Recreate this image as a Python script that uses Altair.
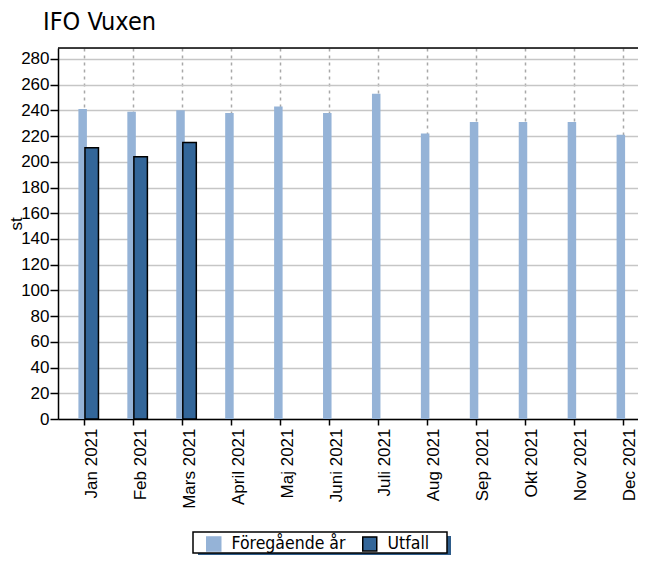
import altair as alt
import pandas as pd

months = ["Jan 2021", "Feb 2021", "Mars 2021", "April 2021", "Maj 2021", "Juni 2021",
          "Juli 2021", "Aug 2021", "Sep 2021", "Okt 2021", "Nov 2021", "Dec 2021"]
foregaende = [241, 239, 240, 238, 243, 238, 253, 222, 231, 231, 231, 221]
utfall = [211, 204, 215]

series = ["Föregående år", "Utfall"]
fill_colors = ["#95b3d7", "#336699"]
stroke_colors = ["#95b3d7", "#000000"]

rows = []
for m, v in zip(months, foregaende):
    rows.append({"month": m, "serie": series[0], "value": v})
for m, v in zip(months, utfall):
    rows.append({"month": m, "serie": series[1], "value": v})
df = pd.DataFrame(rows)

x = alt.X("month:N", sort=months, title=None,
          scale=alt.Scale(paddingInner=0, paddingOuter=0.05, range=[0, 592]),
          axis=alt.Axis(labelAngle=-90, labelAlign="right", labelBaseline="top",
                        labelOffset=-1,
                        labelFont="Liberation Sans", labelFontSize=17, labelColor="#000",
                        labelPadding=3, tickSize=6, tickColor="#000", tickWidth=1.5,
                        domainColor="#000", domainWidth=1.5,
                        grid=True, gridColor="#a8a8a8", gridDash=[3, 4], gridWidth=1.5))
y = alt.Y("value:Q", title="st",
          scale=alt.Scale(domain=[0, 288.5], nice=False),
          axis=alt.Axis(values=list(range(0, 281, 20)), labelFont="Liberation Sans",
                        labelFontSize=17, labelColor="#000", labelPadding=1,
                        tickSize=8, tickColor="#000", tickWidth=1.5,
                        domainColor="#000", domainWidth=1.5,
                        grid=True, gridColor="#c6c6c6", gridWidth=1.5,
                        titleFont="Liberation Sans", titleFontSize=17, titleFontWeight="normal",
                        titleColor="#000", titleAngle=270, titleX=-36.5, titleY=175.5,
                        titleAlign="center", titleBaseline="alphabetic"))
fill = alt.Fill("serie:N", scale=alt.Scale(domain=series, range=fill_colors),
                legend=alt.Legend(title=None, orient="none", legendX=147, legendY=487,
                                  direction="horizontal", symbolType="square", symbolSize=196,
                                  symbolStrokeWidth=1.5, labelFont="DejaVu Sans Condensed",
                                  labelFontSize=17.5, labelColor="#000", labelOffset=9,
                                  columnPadding=13, padding=0))
stroke = alt.Stroke("serie:N", scale=alt.Scale(domain=series, range=stroke_colors), legend=None)

light = alt.Chart(df).transform_filter(alt.datum.serie == series[0]).mark_bar(
    width=8.5, xOffset=-2.25, strokeWidth=0).encode(x=x, y=y, fill=fill, stroke=stroke)
dark = alt.Chart(df).transform_filter(alt.datum.serie == series[1]).mark_bar(
    width=13.5, xOffset=6.8, strokeWidth=1.5).encode(x=x, y=y, fill=fill, stroke=stroke)

box = pd.DataFrame({"k": [0]})
shadow = alt.Chart(box).mark_rect(color="#2e5c8a").encode(
    x=alt.value(140), x2=alt.value(393), y=alt.value(488), y2=alt.value(509))
frame = alt.Chart(box).mark_rect(fill="white", stroke="#000", strokeWidth=1.5).encode(
    x=alt.value(135), x2=alt.value(389), y=alt.value(484), y2=alt.value(505))
topline = alt.Chart(box).mark_rule(color="#000", strokeWidth=1.5).encode(
    x=alt.value(0), x2=alt.value(592), y=alt.value(0))

chart = alt.layer(light, dark, shadow, frame, topline).properties(
    width=580, height=371,
    title=alt.TitleParams("IFO Vuxen", anchor="start", frame="group",
                          font="DejaVu Sans Condensed",
                          fontSize=25, fontWeight="normal", color="#000", dx=-15, dy=8,
                          baseline="alphabetic", offset=0),
    autosize=alt.AutoSizeParams(type="none"),
    padding={"left": 50, "top": 40, "right": 0, "bottom": 136},
).configure_view(strokeWidth=0).configure(background="white")

chart.save("out.html", embed_options={"renderer": "svg", "actions": False})
